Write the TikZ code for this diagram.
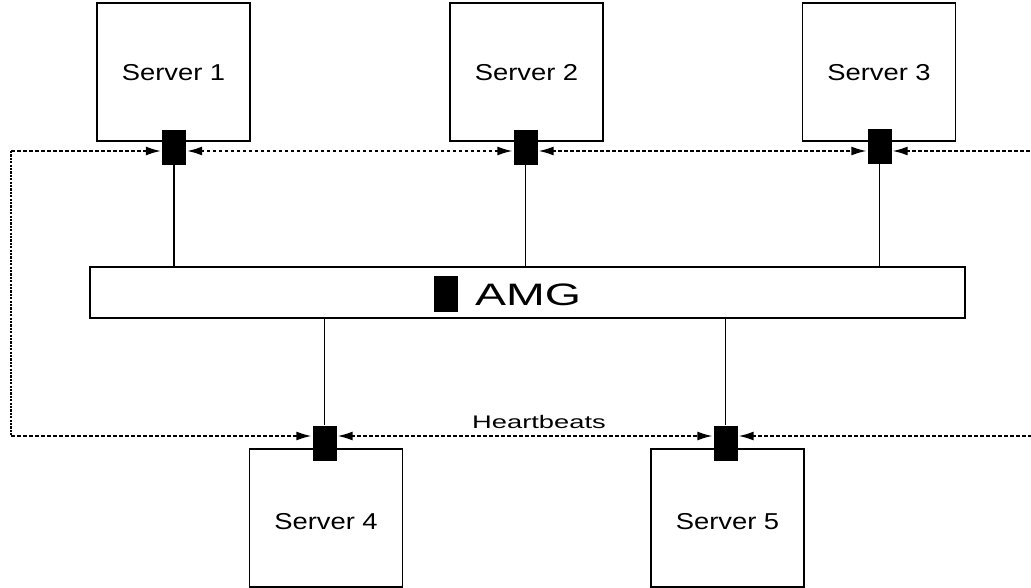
\documentclass[tikz,border=0pt]{standalone}
\usepackage{fontspec}
\setmainfont{Liberation Sans}
\usetikzlibrary{arrows.meta}
\newcommand{\wtext}[3]{\scalebox{#1}[1]{\fontsize{#2}{#2}\selectfont #3}}
\begin{document}
\begin{tikzpicture}[x=1pt,y=-1pt]
\tikzset{
  serverbox/.style={draw,line width=1.4pt,minimum width=153pt,minimum height=138pt,inner sep=0pt,text depth=0pt},
  conn/.style={fill=black,draw=none,minimum width=24pt,minimum height=35pt,inner sep=0pt},
  link/.style={line width=1.2pt},
  hb/.style={line width=2.5pt,dash pattern=on 3.5pt off 2.5pt},
  hbv/.style={line width=2.5pt,dash pattern=on 2.2pt off 1.2pt},
  tipend/.style={-{Latex[length=16pt,width=9pt]}},
  tipstart/.style={{Latex[length=16pt,width=9pt]}-},
  tipboth/.style={{Latex[length=16pt,width=9pt]}-{Latex[length=16pt,width=9pt]}}}
\useasboundingbox (0,0) rectangle (1031,588);
% servers
\node[serverbox,text height=16.5pt] (s1) at (173.5,72) {\wtext{1.19}{23pt}{Server 1}};
\node[serverbox,text height=16.5pt] (s2) at (526.5,72) {\wtext{1.19}{23pt}{Server 2}};
\node[serverbox,text height=16.5pt] (s3) at (879,72) {\wtext{1.19}{23pt}{Server 3}};
\node[serverbox,text height=22.5pt] (s4) at (326,518) {\wtext{1.19}{23pt}{Server 4}};
\node[serverbox,text height=22.5pt] (s5) at (727.5,518) {\wtext{1.19}{23pt}{Server 5}};
% AMG bar
\node[draw,line width=1.4pt,minimum width=875pt,minimum height=51pt,inner sep=0pt] (amg) at (527.5,292.5) {};
\node[fill=black,minimum width=24pt,minimum height=36pt,inner sep=0pt] (amk) at (446,294) {};
\node[anchor=west,inner sep=0pt,text height=22.3pt,text depth=0pt] (amgt) at (475,294) {\wtext{1.5}{31pt}{AMG}};
% connectors
\node[conn] (c1) at (174,147.5) {};
\node[conn] (c2) at (525.5,147.5) {};
\node[conn] (c3) at (879.5,146.5) {};
\node[conn] (c4) at (324.5,443) {};
\node[conn] (c5) at (725.5,443) {};
% links to AMG
\draw[link] (c1.south) -- (c1.south |- amg.north);
\draw[link] (c2.south) -- (c2.south |- amg.north);
\draw[link] (c3.south) -- (c3.south |- amg.north);
\draw[link] (c4.north |- amg.south) -- (c4.north);
\draw[link] (c5.north |- amg.south) -- (c5.north);
% heartbeat ring
\coordinate (tl) at (11,151);
\coordinate (tr) at (1031,151);
\coordinate (bl) at (11,436);
\coordinate (br) at (1031,436);
\draw[hbv] (tl) -- (bl);
\draw[hb,tipend] (tl) -- (tl -| c1.west);
\draw[hb,tipboth] (c1.east |- tl) -- (c2.west |- tl);
\draw[hb,tipboth] (c2.east |- tl) -- (c3.west |- tl);
\draw[hb,tipstart] (c3.east |- tr) -- (tr);
\draw[hb,tipend] (bl) -- (bl -| c4.west);
\draw[hb,tipboth] (c4.east |- bl) -- (c5.west |- bl);
\draw[hb,tipstart] (c5.east |- br) -- (br);
\node[inner sep=0pt,text height=13.3pt,text depth=0pt] (hbl) at (539,421.7) {\wtext{1.5}{18.2pt}{Heartbeats}};
\end{tikzpicture}
\end{document}
